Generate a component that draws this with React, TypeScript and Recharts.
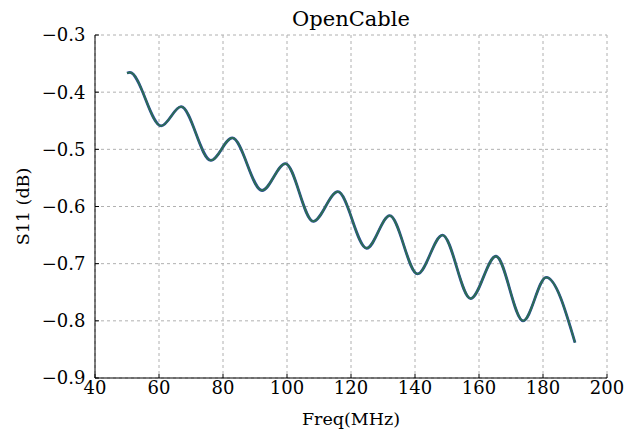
import React from 'react';
import { LineChart, Line, XAxis, YAxis, CartesianGrid } from 'recharts';

const freq = [50, 50.9, 60.7, 66.9, 76.2, 82.9, 92.2, 99.5, 108.2, 115.9, 124.9, 132.1, 140.8, 148.6, 157.4, 165.3, 173.8, 181.0, 190];
const s11Blue = [-0.3665, -0.3655, -0.459, -0.4254, -0.5194, -0.48, -0.572, -0.525, -0.626, -0.574, -0.673, -0.616, -0.718, -0.65, -0.761, -0.687, -0.8, -0.724, -0.838];
const s11Green = [-0.3665, -0.3655, -0.459, -0.4254, -0.5194, -0.48, -0.572, -0.525, -0.626, -0.574, -0.673, -0.616, -0.718, -0.65, -0.761, -0.687, -0.8, -0.724, -0.838];
const xTicks = [40, 60, 80, 100, 120, 140, 160, 180, 200];
const yTicks = [-0.9, -0.8, -0.7, -0.6, -0.5, -0.4, -0.3];

const data = freq.map((f, i) => ({ f, a: s11Blue[i], b: s11Green[i] }));

const FONT = 'DejaVu Serif';
const fmtY = (v: number) => v.toFixed(1).replace('-', '\u2212');

const BottomTick = (props: any) => {
  const { x, y, payload } = props;
  return (
    <g>
      <line x1={x} y1={y} x2={x} y2={y - 4} stroke="#000" strokeWidth={1} />
      <text x={x} y={y + 15.5} textAnchor="middle" fontFamily={FONT} fontSize={18} fill="#000">
        {payload.value}
      </text>
    </g>
  );
};
const TopTick = (props: any) => {
  const { x, y } = props;
  return <line x1={x} y1={y} x2={x} y2={y + 4} stroke="#000" strokeWidth={1} />;
};
const LeftTick = (props: any) => {
  const { x, y, payload } = props;
  return (
    <g>
      <line x1={x} y1={y} x2={x + 4} y2={y} stroke="#000" strokeWidth={1} />
      <text x={x - 9.5} y={y} dy="0.36em" textAnchor="end" fontFamily={FONT} fontSize={18} fill="#000">
        {fmtY(payload.value)}
      </text>
    </g>
  );
};
const RightTick = (props: any) => {
  const { x, y } = props;
  return <line x1={x} y1={y} x2={x - 4} y2={y} stroke="#000" strokeWidth={1} />;
};

export default function App() {
  return (
    <div style={{ position: 'absolute', left: 0, top: 0, width: 626, height: 435, background: '#fff' }}>
      <LineChart width={626} height={435} data={data} margin={{ top: 35, right: 19, bottom: 0, left: 0 }}>
        <CartesianGrid stroke="#b0b0b0" strokeDasharray="3 3" />
        <XAxis
          dataKey="f"
          type="number"
          domain={[40, 200]}
          ticks={xTicks}
          height={57}
          tickSize={0}
          tickMargin={0}
          tickLine={false}
          axisLine={{ stroke: '#000' }}
          tick={<BottomTick />}
          interval={0}
        />
        <XAxis
          xAxisId="top"
          orientation="top"
          dataKey="f"
          type="number"
          domain={[40, 200]}
          ticks={xTicks}
          height={0}
          tickSize={0}
          tickMargin={0}
          tickLine={false}
          axisLine={{ stroke: '#000' }}
          tick={<TopTick />}
          interval={0}
        />
        <YAxis
          type="number"
          domain={[-0.9, -0.3]}
          ticks={yTicks}
          width={95}
          tickSize={0}
          tickMargin={0}
          tickLine={false}
          axisLine={{ stroke: '#000' }}
          tick={<LeftTick />}
          interval={0}
        />
        <YAxis
          yAxisId="right"
          orientation="right"
          type="number"
          domain={[-0.9, -0.3]}
          ticks={yTicks}
          width={0}
          tickSize={0}
          tickMargin={0}
          tickLine={false}
          axisLine={{ stroke: '#000' }}
          tick={<RightTick />}
          interval={0}
        />
        <Line type="monotone" dataKey="a" stroke="#2b4aa0" strokeWidth={2.8} dot={false} isAnimationActive={false} />
        <Line type="monotone" dataKey="b" stroke="#2d6e52" strokeWidth={1.8} dot={false} isAnimationActive={false} />
        <text x={351} y={26} textAnchor="middle" fontFamily={FONT} fontSize={21} fill="#000">OpenCable</text>
        <text x={351} y={425} textAnchor="middle" fontFamily={FONT} fontSize={17.5} fill="#000">Freq(MHz)</text>
        <text x={23} y={206.5} textAnchor="middle" dominantBaseline="central" transform="rotate(-90 23 206.5)" fontFamily={FONT} fontSize={17.5} fill="#000">S11 (dB)</text>
      </LineChart>
    </div>
  );
}
